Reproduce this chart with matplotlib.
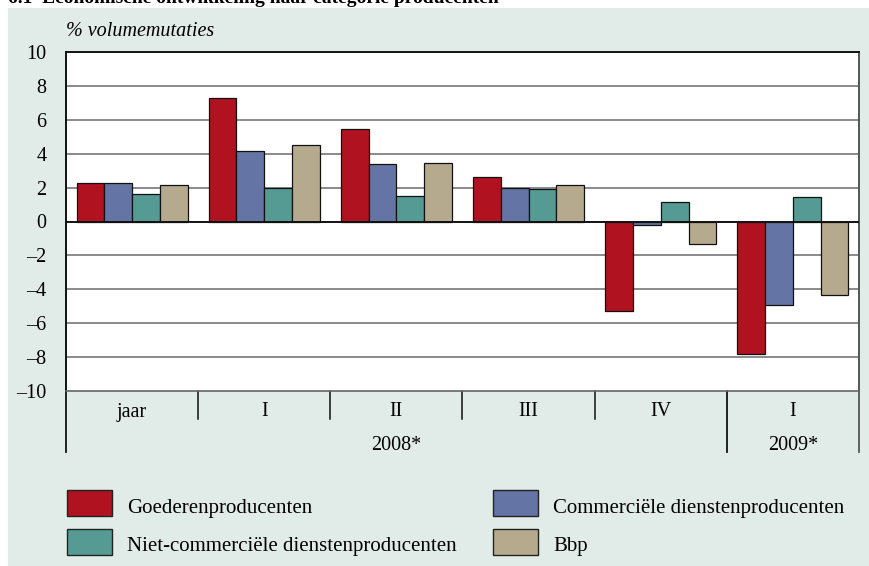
import matplotlib
matplotlib.use("Agg")
import matplotlib.pyplot as plt
from matplotlib.patches import Rectangle

# data (% volumemutaties)
categories = ["jaar", "I", "II", "III", "IV", "I"]
years = ["2008*", "2009*"]
series = ["Goederenproducenten", "Commerciële dienstenproducenten",
          "Niet-commerciële dienstenproducenten", "Bbp"]
goederen = [2.3, 7.3, 5.45, 2.6, -5.3, -7.8]
commercieel = [2.3, 4.15, 3.4, 2.0, -0.2, -4.95]
niet_commercieel = [1.65, 2.0, 1.5, 1.9, 1.15, 1.45]
bbp = [2.15, 4.5, 3.45, 2.15, -1.3, -4.35]
yticks = list(range(-10, 11, 2))

colors = ["#b0121f", "#6474a4", "#559b94", "#b5aa8d"]
BG = "#e1ebe8"
FS = 14.5
plt.rcParams["font.family"] = ["Liberation Serif", "DejaVu Serif"]

W, H = 869, 566
fig = plt.figure(figsize=(W / 100, H / 100), dpi=100, facecolor="white")
fig.patches.append(Rectangle((8 / W, 0), 1, 1 - 8 / H, transform=fig.transFigure,
                             facecolor=BG, edgecolor="none", zorder=-10))

# title, cut off at the top edge as in the source
fig.text(8 / W, 1 - 3 / H, "6.1  Economische ontwikkeling naar categorie producenten",
         fontsize=14, fontweight="bold", va="baseline", ha="left")

left, right, top, bottom = 66, 859, 52, 391
ax = fig.add_axes([left / W, 1 - bottom / H, (right - left) / W, (bottom - top) / H])
ax.set_facecolor("white")

w = 0.21
values = [goederen, commercieel, niet_commercieel, bbp]
for k, (vals, c) in enumerate(zip(values, colors)):
    xs = [i + (k - 1.5) * w for i in range(len(categories))]
    ax.bar(xs, vals, width=w, color=c, edgecolor="#111111", linewidth=0.9, zorder=3)

ax.set_xlim(-0.5, len(categories) - 0.5)
ax.set_ylim(-10, 10)
ax.set_yticks(yticks)
ax.set_yticklabels([str(t).replace("-", "–") for t in yticks], fontsize=FS)
ax.tick_params(axis="y", length=0, pad=14)
ax.set_xticks([])
for t in yticks[1:-1]:
    if t == 0:
        continue
    ax.axhline(t, color="#777777", lw=1.2, zorder=1)
ax.axhline(0, color="#111111", lw=1.4, zorder=4)

for s in ["top", "left"]:
    ax.spines[s].set_color("#111111")
    ax.spines[s].set_linewidth(1.4)
ax.spines["bottom"].set_color("#666666")
ax.spines["bottom"].set_linewidth(1.2)
ax.spines["right"].set_color("#555555")
ax.spines["right"].set_linewidth(1.4)

# category axis below the plot
ph = bottom - top
tr = ax.get_xaxis_transform()
y_sep = -(419 - bottom) / ph
y_long = -(452 - bottom) / ph
for xb in [0.5, 1.5, 2.5, 3.5]:
    ax.plot([xb, xb], [0, y_sep], color="#111111", lw=1.1, transform=tr, clip_on=False)
for xb, col in [(-0.5, "#111111"), (4.5, "#111111"), (5.5, "#555555")]:
    ax.plot([xb, xb], [0, y_long], color=col, lw=1.3, transform=tr, clip_on=False)
for i, c in enumerate(categories):
    ax.text(i, -(412 - bottom) / ph, c, transform=tr, ha="center", va="center", fontsize=FS)
ax.text(2.0, -(446 - bottom) / ph, years[0], transform=tr, ha="center", va="center", fontsize=FS)
ax.text(5.0, -(446 - bottom) / ph, years[1], transform=tr, ha="center", va="center", fontsize=FS)

fig.text(left / W, 1 - 31 / H, "% volumemutaties", fontsize=FS, style="italic",
         ha="left", va="center")

# legend
leg_pos = [(67, 503), (493, 503), (67, 542), (493, 542)]
for (x, y), name, c in zip(leg_pos, series, colors):
    fig.patches.append(Rectangle((x / W, 1 - (y + 13) / H), 45 / W, 26 / H,
                                 transform=fig.transFigure, facecolor=c,
                                 edgecolor="#222222", lw=1.0))
    fig.text((x + 60) / W, 1 - (y + 5) / H, name, fontsize=15, ha="left", va="center")

fig.savefig("out.png", dpi=100, facecolor="white")
